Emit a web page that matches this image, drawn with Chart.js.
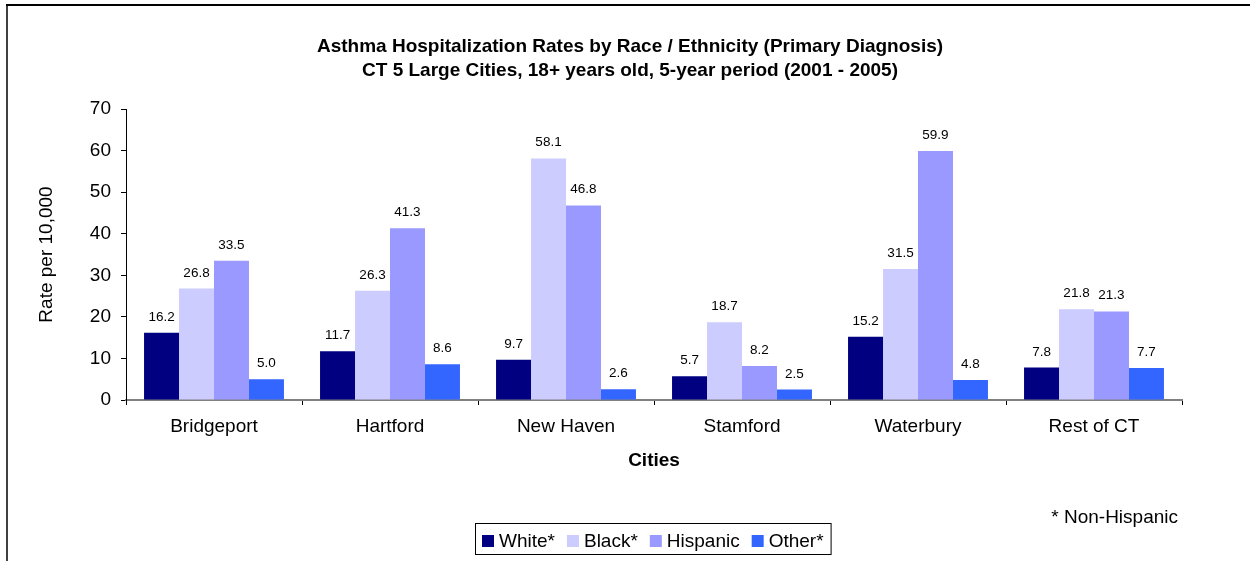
<!DOCTYPE html>
<html>
<head>
<meta charset="utf-8">
<script src="https://cdn.jsdelivr.net/npm/chart.js@4/dist/chart.umd.min.js"></script>
<style>
  html, body { margin: 0; padding: 0; background: #fff; }
  #wrap { position: relative; width: 1250px; height: 561px; }
</style>
</head>
<body>
<div id="wrap"><canvas id="chart"></canvas></div>
<script>
// Données (taux pour 10 000)
const cities = ['Bridgeport', 'Hartford', 'New Haven', 'Stamford', 'Waterbury', 'Rest of CT'];
const white = [16.2, 11.7, 9.7, 5.7, 15.2, 7.8];
const black = [26.8, 26.3, 58.1, 18.7, 31.5, 21.8];
const hispanic = [33.5, 41.3, 46.8, 8.2, 59.9, 21.3];
const other = [5.0, 8.6, 2.6, 2.5, 4.8, 7.7];
const yTicks = [0, 10, 20, 30, 40, 50, 60, 70];

const titleLines = [
  'Asthma Hospitalization Rates by Race / Ethnicity (Primary Diagnosis)',
  'CT 5 Large Cities, 18+ years old, 5-year period (2001 - 2005)'
];
const footNote = '* Non-Hispanic';

const FONT = 'Arial, "Liberation Sans", sans-serif';

const SERIES = [
  { label: 'White*', data: white, color: '#000080' },
  { label: 'Black*', data: black, color: '#CCCCFF' },
  { label: 'Hispanic', data: hispanic, color: '#9999FF' },
  { label: 'Other*', data: other, color: '#3366FF' }
];

// cadre, titre, étiquettes de valeurs, légende encadrée, note
const decorPlugin = {
  id: 'decor',
  afterDraw(chart) {
    const { ctx } = chart;
    ctx.save();

    // bordures gauche et haute
    ctx.strokeStyle = '#404040';
    ctx.lineWidth = 2;
    ctx.beginPath();
    ctx.moveTo(7, 4);
    ctx.lineTo(7, 561);
    ctx.stroke();
    ctx.strokeStyle = '#000';
    ctx.beginPath();
    ctx.moveTo(6, 5);
    ctx.lineTo(1250, 5);
    ctx.stroke();

    // titre
    ctx.fillStyle = '#000';
    ctx.font = `bold 19px ${FONT}`;
    ctx.textAlign = 'center';
    ctx.textBaseline = 'alphabetic';
    titleLines.forEach((line, i) => ctx.fillText(line, 630, 52 + i * 24));

    // valeurs au-dessus des barres
    ctx.font = `13.5px ${FONT}`;
    chart.data.datasets.forEach((ds, di) => {
      const meta = chart.getDatasetMeta(di);
      meta.data.forEach((bar, i) => {
        ctx.fillText(Number(ds.data[i]).toFixed(1), bar.x, bar.y - 12);
      });
    });

    // note
    ctx.font = `19px ${FONT}`;
    ctx.textAlign = 'right';
    ctx.fillText(footNote, 1178, 523);

    // légende
    ctx.textAlign = 'left';
    const box = 12, gapText = 5, gapItem = 12, padX = 7;
    const widths = chart.data.datasets.map((ds) => ctx.measureText(ds.label).width);
    const inner = widths.reduce((s, w) => s + w + box + gapText, 0) + gapItem * (widths.length - 1);
    const left = Math.round(653 - inner / 2 - padX);
    ctx.strokeStyle = '#000';
    ctx.lineWidth = 1;
    ctx.strokeRect(left + 0.5, 523.5, inner + padX * 2, 31);
    let x = left + padX;
    chart.data.datasets.forEach((ds, i) => {
      ctx.fillStyle = ds.backgroundColor;
      ctx.fillRect(x, 535, box, box);
      ctx.fillStyle = '#000';
      ctx.fillText(ds.label, x + box + gapText, 547);
      x += box + gapText + widths[i] + gapItem;
    });

    ctx.restore();
  }
};

new Chart(document.getElementById('chart'), {
  type: 'bar',
  data: {
    labels: cities,
    datasets: SERIES.map((s) => ({
      label: s.label,
      data: s.data,
      backgroundColor: s.color,
      borderWidth: 0,
      categoryPercentage: 0.795,
      barPercentage: 1
    }))
  },
  options: {
    responsive: true,
    maintainAspectRatio: false,
    animation: false,
    layout: { padding: { left: 0, top: 109, right: 68, bottom: 0 } },
    plugins: {
      legend: { display: false },
      title: { display: false },
      tooltip: { enabled: false }
    },
    scales: {
      x: {
        offset: true,
        grid: { display: true, drawOnChartArea: false, offset: true, color: '#000', tickLength: 5 },
        border: { color: '#808080', width: 2 },
        ticks: { color: '#000', font: { family: FONT, size: 19 }, padding: 10 },
        title: {
          display: true,
          text: 'Cities',
          color: '#000',
          font: { family: FONT, size: 19, weight: 'bold' },
          padding: { top: 0, bottom: 89 }
        },
        afterFit: (scale) => { scale.height = 161; }
      },
      y: {
        min: 0,
        max: 70,
        afterBuildTicks: (scale) => { scale.ticks = yTicks.map((v) => ({ value: v })); },
        grid: { display: true, drawOnChartArea: false, color: '#000', tickLength: 5 },
        border: { color: '#000', width: 1 },
        ticks: { color: '#000', font: { family: FONT, size: 19 }, padding: 10 },
        title: {
          display: true,
          text: 'Rate per 10,000',
          color: '#000',
          font: { family: FONT, size: 19 },
          padding: { top: 35, bottom: 0 }
        },
        afterFit: (scale) => { scale.width = 126; }
      }
    }
  },
  plugins: [decorPlugin]
});
</script>
</body>
</html>
